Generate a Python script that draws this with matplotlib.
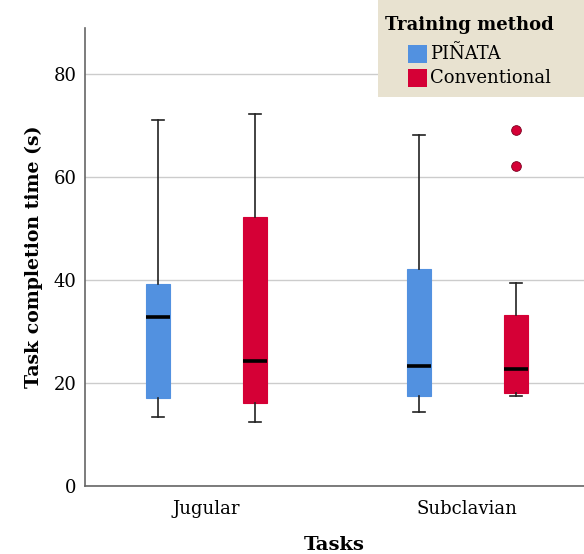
import matplotlib
matplotlib.use("Agg")
import matplotlib.pyplot as plt
from matplotlib.patches import Rectangle

# ---- data ----
tasks = ["Jugular", "Subclavian"]
methods = ["PIÑATA", "Conventional"]
colors = ["#5291E0", "#D50036"]
# per method: one value per task
whisker_low = {"PIÑATA": [13.4, 14.4], "Conventional": [12.4, 17.4]}
q1 = {"PIÑATA": [17.1, 17.4], "Conventional": [16.1, 18.0]}
median = {"PIÑATA": [32.9, 23.3], "Conventional": [24.2, 22.8]}
q3 = {"PIÑATA": [39.3, 42.2], "Conventional": [52.2, 33.2]}
whisker_high = {"PIÑATA": [71.2, 68.3], "Conventional": [72.2, 39.4]}
outliers = {"PIÑATA": [[], []], "Conventional": [[], [69.2, 62.2]]}
yticks = [0, 20, 40, 60, 80]

plt.rcParams['font.family'] = ['DejaVu Serif']

W, H = 584, 554
fig = plt.figure(figsize=(W/100, H/100), dpi=100)
ax = fig.add_axes([85/W, 1-486/H, 1-85/W, (486-28)/H])

offset = 0.186
width = 0.09
for mi, m in enumerate(methods):
    stats = []
    for ti in range(len(tasks)):
        stats.append(dict(med=median[m][ti], q1=q1[m][ti], q3=q3[m][ti],
                          whislo=whisker_low[m][ti], whishi=whisker_high[m][ti],
                          fliers=outliers[m][ti]))
    pos = [ti + (mi - 0.5) * 2 * offset for ti in range(len(tasks))]
    ax.bxp(stats, positions=pos, widths=width, patch_artist=True,
           showfliers=True,
           boxprops=dict(facecolor=colors[mi], edgecolor=colors[mi], linewidth=0.8),
           medianprops=dict(color="black", linewidth=2.6),
           whiskerprops=dict(color="#222222", linewidth=1.2),
           capprops=dict(color="#222222", linewidth=1.2),
           capwidths=0.045,
           flierprops=dict(marker="o", markerfacecolor=colors[mi],
                           markeredgecolor="#7a0020", markersize=7,
                           markeredgewidth=0.6),
           zorder=3)

ax.set_xlim(-0.465, 1.447)
ax.set_ylim(0, 89)
ax.set_xticks([0, 1])
ax.set_xticklabels(tasks, fontsize=13)
ax.set_yticks(yticks)
ax.set_yticklabels([str(v) for v in yticks], fontsize=13)
ax.tick_params(axis="x", length=0, pad=10)
ax.tick_params(axis="y", length=0, pad=6)
ax.grid(axis="y", color="#CCCCCC", linewidth=1.0, zorder=0)
ax.set_axisbelow(True)
for s in ["top", "right"]:
    ax.spines[s].set_visible(False)
for s in ["left", "bottom"]:
    ax.spines[s].set_color("#666666")
    ax.spines[s].set_linewidth(1.2)

ax.set_xlabel("Tasks", fontsize=14, fontweight="bold", labelpad=13)
ax.set_ylabel("Task completion time (s)", fontsize=13.6, fontweight="bold", labelpad=8)

# ---- legend (drawn in figure pixel space) ----
def fx(x):
    return x / W
def fy(y):
    return 1 - y / H

fig.patches.append(Rectangle((fx(378), fy(97)), fx(584) - fx(378), fy(0) - fy(97),
                             transform=fig.transFigure, facecolor="#E8E2D0",
                             edgecolor="none", zorder=10))
fig.text(fx(385), fy(25), "Training method", fontsize=13, fontweight="bold",
         ha="left", va="center", zorder=11)
patch_tops = [45, 69]
for i, (m, c) in enumerate(zip(methods, colors)):
    top = patch_tops[i]
    fig.patches.append(Rectangle((fx(408), fy(top + 18)), fx(427) - fx(408), fy(top) - fy(top + 18),
                                 transform=fig.transFigure, facecolor=c,
                                 edgecolor="none", zorder=11))
    fig.text(fx(430), fy(top + 9), m, fontsize=13, ha="left", va="center", zorder=11)

fig.savefig("out.png", dpi=100)
